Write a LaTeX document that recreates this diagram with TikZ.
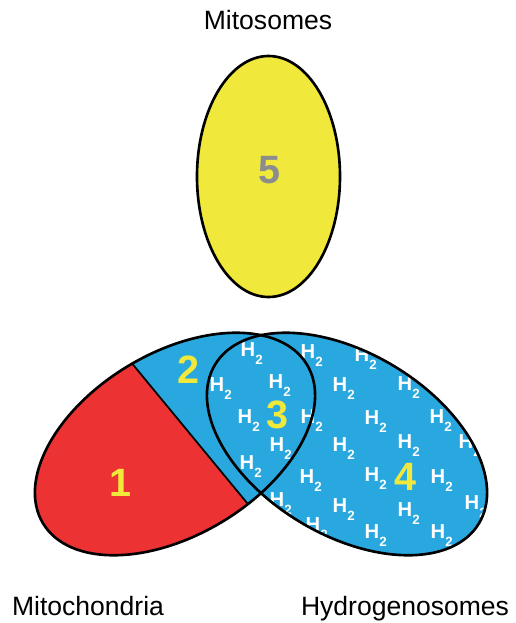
\documentclass[tikz,border=0pt]{standalone}
\usepackage{fontspec}
\setmainfont{Liberation Sans}
\usetikzlibrary{calc}
\definecolor{mitored}{RGB}{237,50,52}
\definecolor{hydblue}{RGB}{41,168,224}
\definecolor{mitoyellow}{RGB}{240,232,58}
\definecolor{numgray}{RGB}{138,140,142}
\newcommand{\htwo}{H\rlap{\smash{\raisebox{-4.4pt}{\fontsize{7.6}{8}\selectfont 2}}}}

\begin{document}
\begin{tikzpicture}[x=0.02cm, y=-0.02cm,
        outline/.style={draw=black, line width=1.5pt},
        digit/.style={font=\fontsize{22.5}{24}\selectfont\bfseries, text=mitoyellow, inner sep=0pt},
        hyd/.style={font=\fontsize{11.5}{12}\selectfont\bfseries, text=white, inner sep=0pt},
        caption/.style={font=\fontsize{15.1}{17}\selectfont, inner sep=0pt, anchor=base}]
    \useasboundingbox (0,0) rectangle (515,623);
    \coordinate (mitoC) at (175,444);
    \coordinate (hydC) at (347,444);
    \coordinate (someC) at (268.5,176.5);
    \coordinate (cutTop) at (130,361);
    \coordinate (cutBot) at (252,509);
    % mitochondria: blue, red part left of the cut
    \fill[hydblue, rotate around={31:(mitoC)}] (mitoC) ellipse [x radius=154, y radius=91];
    \begin{scope}
        \clip[rotate around={31:(mitoC)}] (mitoC) ellipse [x radius=154, y radius=91];
        \fill[mitored] ($(cutTop)!-1!(cutBot)$) -- ($(cutBot)!-0.5!(cutTop)$) -- (0,623) -- (0,231) -- cycle;
        \draw[line width=1pt] (cutTop) -- (cutBot);
    \end{scope}
    % hydrogenosomes with H2
    \fill[hydblue, rotate around={-31:(hydC)}] (hydC) ellipse [x radius=154, y radius=91];
    \begin{scope}
        \clip[rotate around={-31:(hydC)}] (hydC) ellipse [x radius=154, y radius=91];
        \foreach \x/\y [count=\i] in {248/350, 308/352, 362/355,
                217/385, 276/382, 340/385, 405/384,
                245/417, 308/417, 372/418, 437/417,
                277/445, 340/445, 405/442, 466/442,
                247/463, 307/477, 372/475, 438/477,
                277/500, 340/506, 405/510, 472/503,
                313/525, 372/532, 438/532}
            \node[hyd] (h\i) at (\x,\y) {\htwo};
    \end{scope}
    \draw[outline, rotate around={31:(mitoC)}] (mitoC) ellipse [x radius=154, y radius=91];
    \draw[outline, rotate around={-31:(hydC)}] (hydC) ellipse [x radius=154, y radius=91];
    % mitosomes
    \draw[outline, fill=mitoyellow] (someC) ellipse [x radius=71.5, y radius=120.5];

    \node[digit] (one) at (120,483) {1};
    \node[digit] (two) at (188,370) {2};
    \node[digit] (three) at (277,415) {3};
    \node[digit] (four) at (405,477) {4};
    \node[digit, text=numgray] (five) at (269,170) {5};

    \node[caption] (somes) at (268,29.3) {Mitosomes};
    \node[caption] (chondria) at (88,615) {Mitochondria};
    \node[caption] (hydro) at (405,615) {Hydrogenosomes};
\end{tikzpicture}
\end{document}
